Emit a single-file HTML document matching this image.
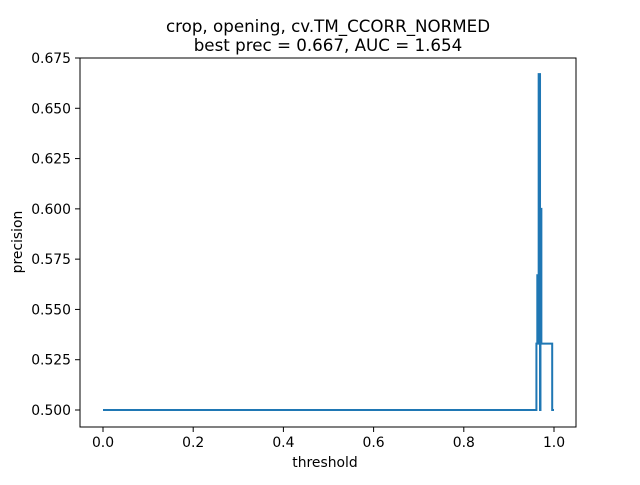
<!DOCTYPE html>
<html><head><meta charset="utf-8"><style>
body{margin:0;background:#fff;}
svg text{font-family:"DejaVu Sans","Liberation Sans",sans-serif;fill:#000;}
</style></head><body>
<svg id="chart" width="640" height="480" viewBox="0 0 640 480">
<rect x="0" y="0" width="640" height="480" fill="#fff"/>
<text x="328" y="32" font-size="16.7" text-anchor="middle">crop, opening, cv.TM_CCORR_NORMED</text>
<text x="328" y="51" font-size="16.7" text-anchor="middle">best prec = 0.667, AUC = 1.654</text>
<g id="xticks"></g>
<g id="yticks"></g>
<path id="series" fill="none" stroke="#1f77b4" stroke-width="2"/>
<rect x="80" y="58" width="496" height="369" fill="none" stroke="#000" stroke-width="1"/>
<text x="325" y="467" font-size="13.9" text-anchor="middle">threshold</text>
<text x="22" y="242" font-size="13.9" text-anchor="middle" transform="rotate(-90 22 242)">precision</text>
</svg>
<script>
const thresholds=[0,0.961,0.963,0.965,0.966,0.969,0.970,0.972,0.996,1.0];
const precisions=[0.5,0.533,0.567,0.533,0.667,0.5,0.6,0.533,0.5,0.5];
const xTicks=[0,0.2,0.4,0.6,0.8,1.0];
const xTickLabels=["0.0","0.2","0.4","0.6","0.8","1.0"];
const yTicks=[0.5,0.525,0.55,0.575,0.6,0.625,0.65,0.675];
const yTickLabels=["0.500","0.525","0.550","0.575","0.600","0.625","0.650","0.675"];
const NS="http://www.w3.org/2000/svg";
const xs=v=>103+v*451;
const ys=v=>410-(v-0.5)/0.175*352;
const gx=document.getElementById('xticks'),gy=document.getElementById('yticks');
xTicks.forEach((t,i)=>{
 const l=document.createElementNS(NS,'line');
 l.setAttribute('x1',xs(t));l.setAttribute('x2',xs(t));l.setAttribute('y1',427);l.setAttribute('y2',432);l.setAttribute('stroke','#000');
 
 
 gx.appendChild(l);
 const tx=document.createElementNS(NS,'text');
 tx.setAttribute('x',xs(t));tx.setAttribute('y',447);tx.setAttribute('font-size','13.9');tx.setAttribute('text-anchor','middle');
 tx.textContent=xTickLabels[i];
 
 
 gx.appendChild(tx);
});
yTicks.forEach((t,i)=>{
 const l=document.createElementNS(NS,'line');
 l.setAttribute('x1',75);l.setAttribute('x2',80);l.setAttribute('y1',ys(t));l.setAttribute('y2',ys(t));l.setAttribute('stroke','#000');
 
 
 gy.appendChild(l);
 const tx=document.createElementNS(NS,'text');
 tx.setAttribute('x',71);tx.setAttribute('y',ys(t)+5);tx.setAttribute('font-size','13.9');tx.setAttribute('text-anchor','end');
 tx.textContent=yTickLabels[i];
 
 
 gy.appendChild(tx);
});
let d='M'+xs(thresholds[0])+','+ys(precisions[0]);
for(let i=1;i<thresholds.length;i++){
 d+=' L'+xs(thresholds[i])+','+ys(precisions[i-1])+' L'+xs(thresholds[i])+','+ys(precisions[i]);
}
document.getElementById('series').setAttribute('d',d);
</script>
</body></html>
